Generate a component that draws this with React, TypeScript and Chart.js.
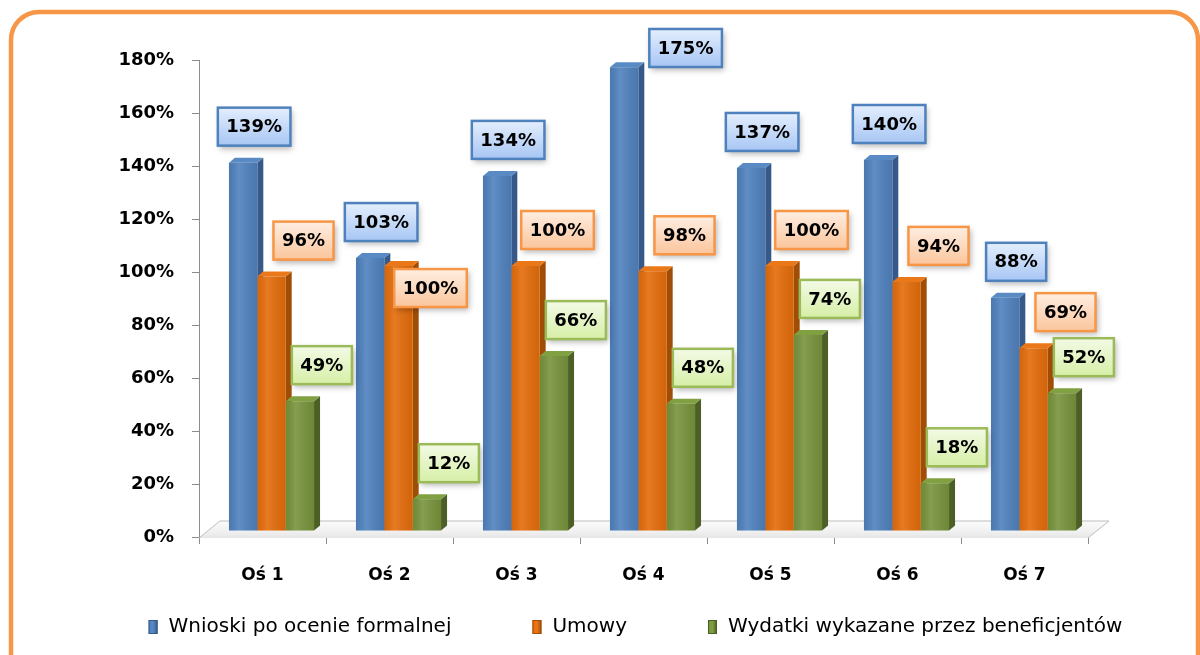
import React, { useEffect, useRef } from 'react';
import { Chart, registerables } from 'chart.js';

Chart.register(...registerables);

// ---- data ----
const categories = ['Oś 1', 'Oś 2', 'Oś 3', 'Oś 4', 'Oś 5', 'Oś 6', 'Oś 7'];
const seriesNames = ['Wnioski po ocenie formalnej', 'Umowy', 'Wydatki wykazane przez beneficjentów'];
const wnioski = [139, 103, 134, 175, 137, 140, 88];
const umowy = [96, 100, 100, 98, 100, 94, 69];
const wydatki = [49, 12, 66, 48, 74, 18, 52];
const yMin = 0;
const yMax = 180;
const yStep = 20;

// ---- styles ----
const FRONT = ['#4F81BD', '#E46C0A', '#77933C'];
const SIDE = ['#36598A', '#A04D06', '#4C5F26'];
const TOP = ['#5A8AC4', '#EB7818', '#80A042'];
const LABEL_BORDER = ['#4F81BD', '#F79646', '#9BBB59'];
const LABEL_FILL = [
  ['#E4EEFD', '#A7C6F4'],
  ['#FEEEE2', '#FBC59B'],
  ['#F3FAE6', '#D6EFA6'],
];
const LABEL_DX = [11, 32, 22];
const LABEL_DY = 36;
const OFF = { x: 9, y: -6 };
const DEPTH = { x: 6, y: -5 };
const FLOOR = { x: 21, y: -17 };
const AXIS_GRAY = '#8C8C8C';
const FONT = '"DejaVu Sans", sans-serif';

const threeD = {
  id: 'threeD',
  beforeDatasetsDraw(chart: any) {
    const { ctx, chartArea: ca } = chart;
    // floor
    ctx.save();
    const b = ca.bottom + 1;
    const g = ctx.createLinearGradient(0, b + FLOOR.y, 0, b);
    g.addColorStop(0, '#FBFBFB');
    g.addColorStop(0.6, '#F1F1F1');
    g.addColorStop(1, '#E6E6E6');
    ctx.beginPath();
    ctx.moveTo(ca.left, b);
    ctx.lineTo(ca.right, b);
    ctx.lineTo(ca.right + FLOOR.x, b + FLOOR.y);
    ctx.lineTo(ca.left + FLOOR.x, b + FLOOR.y);
    ctx.closePath();
    ctx.fillStyle = g;
    ctx.fill();
    ctx.strokeStyle = '#BDBDBD';
    ctx.lineWidth = 1;
    ctx.beginPath();
    ctx.moveTo(ca.left, b);
    ctx.lineTo(ca.left + FLOOR.x, b + FLOOR.y);
    ctx.lineTo(ca.right + FLOOR.x, b + FLOOR.y);
    ctx.lineTo(ca.right, b);
    ctx.stroke();
    ctx.restore();

    // side and top faces
    chart.data.datasets.forEach((_ds: any, di: number) => {
      const meta = chart.getDatasetMeta(di);
      meta.data.forEach((el: any) => {
        const x0 = el.x - el.width / 2 + OFF.x;
        const x1 = el.x + el.width / 2 + OFF.x;
        const top = el.y + OFF.y;
        const bot = el.base + OFF.y;
        ctx.save();
        ctx.fillStyle = SIDE[di];
        ctx.beginPath();
        ctx.moveTo(x1, top);
        ctx.lineTo(x1 + DEPTH.x, top + DEPTH.y);
        ctx.lineTo(x1 + DEPTH.x, bot + DEPTH.y);
        ctx.lineTo(x1, bot);
        ctx.closePath();
        ctx.fill();
        ctx.fillStyle = TOP[di];
        ctx.beginPath();
        ctx.moveTo(x0, top);
        ctx.lineTo(x1, top);
        ctx.lineTo(x1 + DEPTH.x, top + DEPTH.y);
        ctx.lineTo(x0 + DEPTH.x, top + DEPTH.y);
        ctx.closePath();
        ctx.fill();
        ctx.restore();
      });
    });
    ctx.save();
    ctx.translate(OFF.x, OFF.y);
  },
  afterDatasetsDraw(chart: any) {
    const { ctx } = chart;
    ctx.restore();
    // subtle highlight on fronts
    chart.data.datasets.forEach((_ds: any, di: number) => {
      const meta = chart.getDatasetMeta(di);
      meta.data.forEach((el: any) => {
        const x0 = el.x - el.width / 2 + OFF.x;
        const top = el.y + OFF.y;
        const bot = el.base + OFF.y;
        const gr = ctx.createLinearGradient(x0, 0, x0 + el.width, 0);
        gr.addColorStop(0, 'rgba(0,0,0,0.06)');
        gr.addColorStop(0.35, 'rgba(255,255,255,0.10)');
        gr.addColorStop(1, 'rgba(0,0,0,0.08)');
        ctx.save();
        ctx.fillStyle = gr;
        ctx.fillRect(x0, top, el.width, bot - top);
        ctx.restore();
      });
    });
  },
  afterDraw(chart: any) {
    const { ctx, chartArea: ca } = chart;
    // data labels
    const placed: { l: number; t: number; r: number; b: number }[] = [];
    const H = 38;
    ctx.save();
    ctx.font = `bold 18px ${FONT}`;
    const nCat = chart.data.labels.length;
    for (let ci = 0; ci < nCat; ci++) {
      chart.data.datasets.forEach((ds: any, di: number) => {
        const el = chart.getDatasetMeta(di).data[ci];
        const text = `${ds.data[ci]}%`;
        const W = ctx.measureText(text).width + 17;
        const cx = el.x + OFF.x + LABEL_DX[di];
        const barTop = el.y + OFF.y;
        let box = { l: cx - W / 2, t: barTop - LABEL_DY - H / 2, r: 0, b: 0 };
        if (box.t < ca.top - 32) {
          box.t = ca.top - 31;
          box.l = el.x + el.width / 2 + OFF.x + DEPTH.x + 5;
        }
        box.r = box.l + W;
        box.b = box.t + H;
        for (const p of placed) {
          if (box.l < p.r && box.r > p.l && box.t < p.b && box.b > p.t) {
            box.t = p.b + 28;
            box.b = box.t + H;
          }
        }
        placed.push(box);
        // shadow
        ctx.save();
        ctx.shadowColor = 'rgba(0,0,0,0.3)';
        ctx.shadowBlur = 6;
        ctx.shadowOffsetX = 2;
        ctx.shadowOffsetY = 3;
        const gf = ctx.createLinearGradient(0, box.t, 0, box.b);
        gf.addColorStop(0, LABEL_FILL[di][0]);
        gf.addColorStop(1, LABEL_FILL[di][1]);
        ctx.fillStyle = gf;
        ctx.fillRect(box.l, box.t, W, H);
        ctx.restore();
        ctx.strokeStyle = LABEL_BORDER[di];
        ctx.lineWidth = 2.5;
        ctx.strokeRect(box.l, box.t, W, H);
        ctx.fillStyle = '#000';
        ctx.textAlign = 'center';
        ctx.textBaseline = 'middle';
        ctx.fillText(text, box.l + W / 2, box.t + H / 2 + 1);
      });
    }
    ctx.restore();

    // legend
    ctx.save();
    ctx.font = `20px ${FONT}`;
    const widths = seriesNames.map((n) => ctx.measureText(n).width);
    const boxW = 9, boxH = 14, boxGap = 11, gap = 81;
    const total = widths.reduce((a, w) => a + boxW + boxGap + w, 0) + gap * (widths.length - 1);
    let x = (ca.left + ca.right) / 2 - 8 - total / 2;
    const yc = chart.height - 28;
    seriesNames.forEach((n, i) => {
      const gm = ctx.createLinearGradient(x, 0, x + boxW, 0);
      gm.addColorStop(0, FRONT[i]);
      gm.addColorStop(0.5, TOP[i]);
      gm.addColorStop(1, SIDE[i]);
      ctx.fillStyle = gm;
      ctx.fillRect(x, yc - boxH / 2, boxW, boxH);
      ctx.strokeStyle = SIDE[i];
      ctx.lineWidth = 1;
      ctx.strokeRect(x + 0.5, yc - boxH / 2 + 0.5, boxW - 1, boxH - 1);
      ctx.fillStyle = '#000';
      ctx.textAlign = 'left';
      ctx.textBaseline = 'middle';
      ctx.fillText(n, x + boxW + boxGap, yc);
      x += boxW + boxGap + widths[i] + gap;
    });
    ctx.restore();

    // frame
    ctx.save();
    ctx.strokeStyle = '#F79646';
    ctx.lineWidth = 4.5;
    ctx.beginPath();
    if (ctx.roundRect) {
      ctx.roundRect(11, 12, chart.width - 13, chart.height + 20, 28);
    } else {
      ctx.rect(11, 12, chart.width - 13, chart.height + 20);
    }
    ctx.stroke();
    ctx.restore();
  },
};

export default function App() {
  const ref = useRef<HTMLCanvasElement | null>(null);
  useEffect(() => {
    if (!ref.current) return;
    const datasets = [wnioski, umowy, wydatki].map((d, i) => ({
      label: seriesNames[i],
      data: d,
      backgroundColor: FRONT[i],
      borderWidth: 0,
      categoryPercentage: 0.67,
      barPercentage: 1.0,
      clip: false as any,
    }));
    const chart = new Chart(ref.current, {
      type: 'bar',
      data: { labels: categories, datasets },
      options: {
        responsive: false,
        animation: false,
        layout: { padding: { left: 119, right: 112, top: 60, bottom: 58 } },
        plugins: {
          legend: { display: false },
          title: { display: false },
          tooltip: { enabled: false },
        },
        scales: {
          x: {
            grid: {
              display: true,
              drawOnChartArea: false,
              drawTicks: true,
              tickLength: 7,
              color: AXIS_GRAY,
              offset: true,
            },
            border: { display: true, color: AXIS_GRAY, width: 1 },
            ticks: {
              color: '#000',
              padding: 21,
              font: { family: FONT, weight: 'bold', size: 17 },
              maxRotation: 0,
            },
            afterFit: (s: any) => {
              s.height = 60;
            },
          },
          y: {
            min: yMin,
            max: yMax,
            grid: {
              display: true,
              drawOnChartArea: false,
              drawTicks: true,
              tickLength: 7,
              color: AXIS_GRAY,
            },
            border: { display: true, color: AXIS_GRAY, width: 1 },
            ticks: {
              stepSize: yStep,
              color: '#000',
              padding: 18,
              font: { family: FONT, weight: 'bold', size: 18 },
              callback: (v: any) => `${v}%`,
            },
            afterFit: (s: any) => {
              s.width = 80;
            },
          },
        },
      },
      plugins: [threeD],
    });
    return () => chart.destroy();
  }, []);
  return (
    <div style={{ position: 'fixed', left: 0, top: 0, width: 1200, height: 655, background: '#fff' }}>
      <canvas ref={ref} width={1200} height={655} style={{ display: 'block', width: 1200, height: 655 }} />
    </div>
  );
}
